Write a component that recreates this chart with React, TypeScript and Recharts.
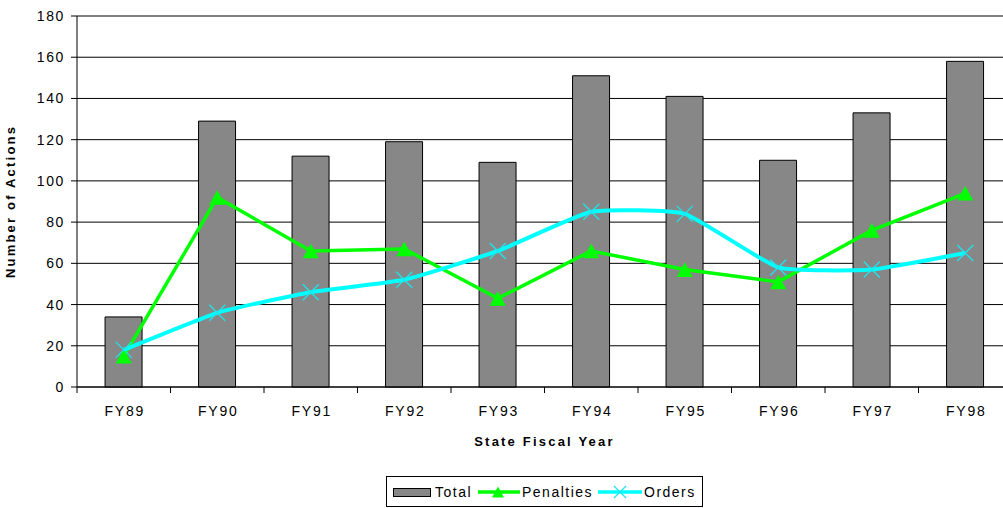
import { ComposedChart, Bar, Line, XAxis, YAxis, CartesianGrid, ReferenceLine } from "recharts"

const years = ["FY89", "FY90", "FY91", "FY92", "FY93", "FY94", "FY95", "FY96", "FY97", "FY98"]
const totals = [34, 129, 112, 119, 109, 151, 141, 110, 133, 158]
const penalties = [15, 92, 66, 67, 43, 66, 57, 51, 76, 94]
const orders = [18, 36, 46, 52, 66, 85, 84, 58, 57, 65]
const yTicks = [0, 20, 40, 60, 80, 100, 120, 140, 160, 180]

const data = years.map((year, i) => ({
	year,
	total: totals[i],
	penalties: penalties[i],
	orders: orders[i],
}))

const FONT = "'Liberation Sans', Arial, sans-serif"
const GREEN = "#00ff00"
const CYAN = "#00ffff"
const GREY = "#878787"

// lightly smoothed line (low-tension catmull-rom through the points)
function smoothCurve(context: any) {
	let pts: [number, number][] = []
	return {
		areaStart() {},
		areaEnd() {},
		lineStart() {
			pts = []
		},
		point(x: number, y: number) {
			pts.push([+x, +y])
		},
		lineEnd() {
			if (!pts.length) return
			context.moveTo(pts[0][0], pts[0][1])
			const t = 1 / 14
			for (let i = 0; i < pts.length - 1; i++) {
				const p0 = pts[i - 1] || pts[i]
				const p1 = pts[i]
				const p2 = pts[i + 1]
				const p3 = pts[i + 2] || p2
				context.bezierCurveTo(
					p1[0] + (p2[0] - p0[0]) * t,
					p1[1] + (p2[1] - p0[1]) * t,
					p2[0] - (p3[0] - p1[0]) * t,
					p2[1] - (p3[1] - p1[1]) * t,
					p2[0],
					p2[1]
				)
			}
		},
	}
}

function Triangle({ cx, cy, size }: { cx: number; cy: number; size: number }) {
	const h = size * 0.92
	return (
		<polygon
			points={`${cx},${cy - h / 2} ${cx + size / 2},${cy + h / 2} ${cx - size / 2},${cy + h / 2}`}
			fill={GREEN}
		/>
	)
}

function Cross({ cx, cy, size }: { cx: number; cy: number; size: number }) {
	const r = size / 2
	return (
		<g stroke="#1ee6ee" strokeWidth={1.3}>
			<line x1={cx - r} y1={cy - r} x2={cx + r} y2={cy + r} />
			<line x1={cx - r} y1={cy + r} x2={cx + r} y2={cy - r} />
		</g>
	)
}

function XTick(props: any) {
	const { x, y, payload } = props
	const half = payload?.offset ?? 46.7
	return (
		<g>
			<line x1={x - half} x2={x - half} y1={y} y2={y + 6} stroke="#000" />
			<text
				x={x + 1}
				y={y + 29}
				textAnchor="middle"
				fontSize={14}
				fontFamily={FONT}
				letterSpacing={1.7}
				fill="#000"
			>
				{payload.value}
			</text>
		</g>
	)
}

function ChartLegend() {
	return (
		<svg
			width={317}
			height={31}
			style={{ position: "absolute", left: 386, top: 476 }}
			fontFamily={FONT}
			fontSize={14}
		>
			<rect x={0.5} y={0.5} width={316} height={30} fill="#fff" stroke="#000" />
			<rect x={7.5} y={12.5} width={37} height={8} fill={GREY} stroke="#000" />
			<text x={49} y={21} letterSpacing={1.5}>Total</text>
			<line x1={92} x2={134} y1={16} y2={16} stroke={GREEN} strokeWidth={3.5} />
			<Triangle cx={112} cy={16} size={12} />
			<text x={136} y={21} letterSpacing={1.5}>Penalties</text>
			<line x1={212} x2={256} y1={16} y2={16} stroke={CYAN} strokeWidth={3.5} />
			<Cross cx={234} cy={16} size={12} />
			<text x={258} y={21} letterSpacing={1.5}>Orders</text>
		</svg>
	)
}

export default function App() {
	return (
		<div
			style={{
				position: "absolute",
				left: 0,
				top: 0,
				width: 1003,
				height: 508,
				overflow: "hidden",
				background: "#fff",
				fontFamily: FONT,
			}}
		>
			<ComposedChart
				width={1012}
				height={508}
				data={data}
				margin={{ top: 16, right: 0, bottom: 0, left: 0 }}
				barCategoryGap="30%"
			>
				<CartesianGrid vertical={false} stroke="#000" strokeOpacity={1} />
				<ReferenceLine y={180} stroke="#808080" strokeWidth={1.5} />
				<XAxis
					dataKey="year"
					height={121}
					axisLine={{ stroke: "#000" }}
					tickLine={false}
					tickSize={0}
					tickMargin={0}
					interval={0}
					tick={<XTick />}
					label={{
						value: "State Fiscal Year",
						position: "insideTop",
						offset: 50,
						style: {
							fontFamily: FONT,
							fontSize: 13,
							fontWeight: "bold",
							letterSpacing: 2.2,
							fill: "#000",
						},
					}}
				/>
				<YAxis
					width={77}
					domain={[0, 180]}
					ticks={yTicks}
					interval={0}
					axisLine={{ stroke: "#000" }}
					tickLine={{ stroke: "#000" }}
					tickSize={6}
					tickMargin={6}
					tick={{ fill: "#000", fontSize: 14, fontFamily: FONT, letterSpacing: 1.6 }}
					label={{
						value: "Number of Actions",
						angle: -90,
						position: "insideLeft",
						offset: 10,
						style: {
							textAnchor: "middle",
							fontFamily: FONT,
							fontSize: 13,
							fontWeight: "bold",
							letterSpacing: 2.2,
							fill: "#000",
						},
					}}
				/>
				<Bar dataKey="total" name="Total" fill={GREY} stroke="#000" strokeWidth={1} isAnimationActive={false} />
				<Line
					dataKey="penalties"
					name="Penalties"
					type="linear"
					stroke={GREEN}
					strokeWidth={3.5}
					dot={(p: any) => <Triangle key={`t-${p.index}`} cx={p.cx} cy={p.cy} size={16} />}
					activeDot={false}
					isAnimationActive={false}
				/>
				<Line
					dataKey="orders"
					name="Orders"
					type={smoothCurve as any}
					stroke={CYAN}
					strokeWidth={4}
					dot={(p: any) => <Cross key={`c-${p.index}`} cx={p.cx} cy={p.cy} size={16} />}
					activeDot={false}
					isAnimationActive={false}
				/>
			</ComposedChart>
			<ChartLegend />
		</div>
	)
}
